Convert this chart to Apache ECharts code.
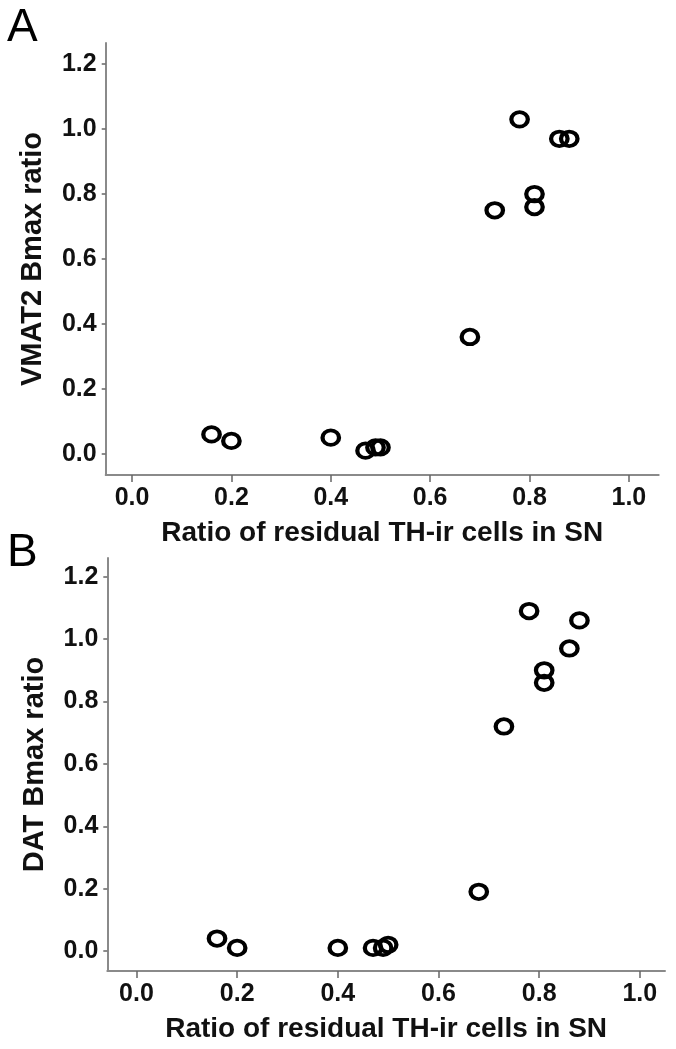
<!DOCTYPE html>
<html>
<head>
<meta charset="utf-8">
<script src="https://cdn.jsdelivr.net/npm/echarts@6/dist/echarts.min.js"></script>
<style>
html,body{margin:0;padding:0;background:#fff;}
#chart{width:676px;height:1049px;}
</style>
</head>
<body>
<div id="chart"></div>
<script>
// Panel A: VMAT2 Bmax ratio vs ratio of residual TH-ir cells
const xA = [0.16, 0.20, 0.40, 0.47, 0.49, 0.50, 0.68, 0.73, 0.78, 0.81, 0.81, 0.86, 0.88];
const yA = [0.06, 0.04, 0.05, 0.01, 0.02, 0.02, 0.36, 0.75, 1.03, 0.80, 0.76, 0.97, 0.97];
// Panel B: DAT Bmax ratio vs ratio of residual TH-ir cells
const xB = [0.16, 0.20, 0.40, 0.47, 0.49, 0.50, 0.68, 0.73, 0.78, 0.81, 0.81, 0.86, 0.88];
const yB = [0.04, 0.01, 0.01, 0.01, 0.01, 0.02, 0.19, 0.72, 1.09, 0.90, 0.86, 0.97, 1.06];
// Tick labels
const xTicks = [0, 0.2, 0.4, 0.6, 0.8, 1.0];
const yTicks = [0, 0.2, 0.4, 0.6, 0.8, 1.0, 1.2];
const xTitle = 'Ratio of residual TH-ir cells in SN';
const yTitleA = 'VMAT2 Bmax ratio';
const yTitleB = 'DAT Bmax ratio';

const FONT = "'Liberation Sans', Arial, Helvetica, sans-serif";
const axisCol = '#8a8a8a';

function xAxisCfg(gi, min, max) {
  return {
    type: 'value', gridIndex: gi, min: min, max: max,
    name: xTitle, nameLocation: 'middle', nameGap: 44,
    nameTextStyle: {fontFamily: FONT, fontWeight: 'bold', fontSize: 28, color: '#111'},
    axisLine: {show: true, onZero: false, lineStyle: {color: axisCol, width: 2}},
    axisTick: {show: true, length: 7, customValues: xTicks, lineStyle: {color: '#666', width: 1.5}},
    axisLabel: {customValues: xTicks, margin: 11, fontFamily: FONT, fontWeight: 'bold', fontSize: 25, color: '#111',
      formatter: v => Number(v).toFixed(1)},
    splitLine: {show: false}
  };
}
function yAxisCfg(gi, min, max, name) {
  return {
    type: 'value', gridIndex: gi, min: min, max: max,
    name: name, nameLocation: 'middle', nameGap: 58,
    nameTextStyle: {fontFamily: FONT, fontWeight: 'bold', fontSize: 29, color: '#111'},
    axisLine: {show: true, onZero: false, lineStyle: {color: axisCol, width: 2}},
    axisTick: {show: true, length: 4, customValues: yTicks, lineStyle: {color: '#666', width: 1.5}},
    axisLabel: {customValues: yTicks, margin: 9, fontFamily: FONT, fontWeight: 'bold', fontSize: 25, color: '#111',
      formatter: v => Number(v).toFixed(1)},
    splitLine: {show: false}
  };
}
function pts(xs, ys) { return xs.map((x, i) => [x, ys[i]]); }
const markerStyle = {color: 'rgba(0,0,0,0)', borderColor: '#000', borderWidth: 4, opacity: 1};

const chart = echarts.init(document.getElementById('chart'), null, {renderer: 'canvas'});
chart.setOption({
  animation: false,
  backgroundColor: '#fff',
  title: [
    {text: 'A', left: 2, top: 0, textStyle: {fontFamily: FONT, fontWeight: 'normal', fontSize: 46, color: '#000'}},
    {text: 'B', left: 2, top: 525, textStyle: {fontFamily: FONT, fontWeight: 'normal', fontSize: 46, color: '#000'}}
  ],
  grid: [
    {left: 105.7, top: 43, width: 553, height: 432},
    {left: 107.3, top: 558, width: 557.7, height: 413}
  ],
  xAxis: [xAxisCfg(0, -0.053, 1.06), xAxisCfg(1, -0.058, 1.05)],
  yAxis: [yAxisCfg(0, -0.065, 1.265, yTitleA), yAxisCfg(1, -0.064, 1.26, yTitleB)],
  series: [
    {type: 'scatter', xAxisIndex: 0, yAxisIndex: 0, data: pts(xA, yA),
      symbol: 'circle', symbolSize: [16.5, 14.5], itemStyle: markerStyle},
    {type: 'scatter', xAxisIndex: 1, yAxisIndex: 1, data: pts(xB, yB),
      symbol: 'circle', symbolSize: [16.5, 14.5], itemStyle: markerStyle}
  ]
});
</script>
</body>
</html>
